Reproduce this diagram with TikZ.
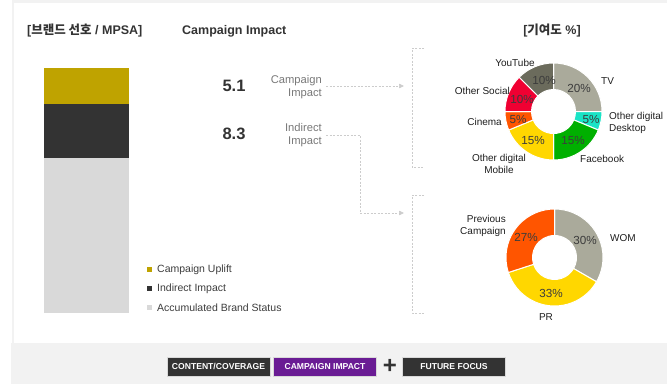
\documentclass[tikz,border=0pt]{standalone}
\usepackage{fontspec}
\setmainfont{Liberation Sans}
\newfontfamily\kr{Noto Sans CJK KR}
\usetikzlibrary{arrows.meta}
\definecolor{bgray}{RGB}{242,242,242}
\definecolor{gold}{RGB}{191,163,0}
\definecolor{dark}{RGB}{51,51,51}
\definecolor{lgray}{RGB}{217,217,217}
\definecolor{dashc}{RGB}{204,204,204}
\definecolor{labgray}{RGB}{120,120,120}
\definecolor{txt}{RGB}{30,30,30}
\definecolor{pct}{RGB}{60,60,60}
\definecolor{tvc}{RGB}{170,170,155}
\definecolor{deskc}{RGB}{25,228,198}
\definecolor{fbc}{RGB}{0,176,0}
\definecolor{yelc}{RGB}{255,215,0}
\definecolor{orc}{RGB}{255,85,0}
\definecolor{redc}{RGB}{240,0,50}
\definecolor{ytc}{RGB}{107,107,92}
\definecolor{purp}{RGB}{106,28,148}
\newcommand\ringslice[3]{%
  \fill[#3, draw=white, line width=1pt]
    ({90-#1}:48.5) arc[start angle={90-#1}, end angle={90-#2}, radius=48.5]
    -- ({90-#2}:22) arc[start angle={90-#2}, end angle={90-#1}, radius=22] -- cycle;}
\tikzset{
  head/.style={font=\fontsize{12.5}{14}\selectfont\bfseries, text=dark, inner sep=0pt},
  bignum/.style={font=\fontsize{16.5}{18}\selectfont\bfseries, text=dark, inner sep=0pt},
  implab/.style={font=\fontsize{11.2}{13.5}\selectfont, text=labgray, align=right, inner sep=0pt},
  leg/.style={font=\fontsize{10.5}{12}\selectfont, text=pct, anchor=west, inner sep=0pt},
  dlab/.style={font=\fontsize{10}{12}\selectfont, text=txt, inner sep=0pt},
  pctlab/.style={font=\fontsize{11.7}{13}\selectfont, text=pct, inner sep=0pt},
  conn/.style={draw=dashc, dash pattern=on 2pt off 1.5pt, line width=0.7pt},
  tip/.style={-{Triangle[length=5pt,width=4.5pt,fill=dashc,color=dashc]}},
  btn/.style={draw=lgray, line width=0.5pt, minimum width=103pt, minimum height=19pt, inner sep=0pt,
    text=white, font=\fontsize{8.6}{10}\selectfont\bfseries}
}
\begin{document}
\begin{tikzpicture}[x=1pt,y=-1pt]
\useasboundingbox (0,0) rectangle (667,386);
% frame
\fill[bgray] (12,0) rectangle (667,3);
\fill[bgray] (12,3) rectangle (14,343);
\fill[bgray] (11,343) rectangle (667,384);
% headers
\node[head, anchor=west] (h1) at (27,31) {[{\kr 브랜드 선호} / MPSA]};
\node[head, anchor=west] (h2) at (182,31) {Campaign Impact};
\node[head] (h3) at (552,31) {[{\kr 기여도} \%]};
% bar
\fill[gold] (44,68) rectangle (129,104);
\fill[dark] (44,104) rectangle (129,158);
\fill[lgray] (44,158) rectangle (129,313);
% legend
\fill[gold] (147,267) rectangle (152,272);
\fill[dark] (147,286) rectangle (152,291);
\fill[lgray] (147,305) rectangle (152,310);
\node[leg] (l1) at (157,269.5) {Campaign Uplift};
\node[leg] (l2) at (157,288.5) {Indirect Impact};
\node[leg] (l3) at (157,307.5) {Accumulated Brand Status};
% numbers
\node[bignum] (n1) at (234,86) {5.1};
\node[bignum] (n2) at (234,134) {8.3};
\node[implab, anchor=east] (ci) at (322,87) {Campaign\\Impact};
\node[implab, anchor=east] (ii) at (322,135) {Indirect\\Impact};
% connectors
\coordinate (e1) at (404,86);
\coordinate (e2) at (404,213);
\coordinate (k2) at (360,135);
\draw[conn, tip] (ci.east |- e1) ++(4,0) -- (e1);
\draw[conn, tip] ([xshift=4pt]ii.east |- k2) -- (k2) -- (k2 |- e2) -- (e2);
% brackets
\coordinate (b1t) at (424,48);
\coordinate (b1b) at (424,167);
\coordinate (b2t) at (424,195);
\coordinate (b2b) at (424,313);
\draw[conn] (b1t) -- ++(-12,0) |- (b1b);
\draw[conn] (b2t) -- ++(-12,0) |- (b2b);
% donut 1
\begin{scope}[shift={(553.5,111.5)}, y=1pt]
\ringslice{0}{90}{tvc}
\ringslice{90}{112.5}{deskc}
\ringslice{112.5}{180}{fbc}
\ringslice{180}{247.5}{yelc}
\ringslice{247.5}{270}{orc}
\ringslice{270}{315}{redc}
\ringslice{315}{360}{ytc}
\end{scope}
\node[pctlab] (p1) at (579,88) {20\%};
\node[pctlab] (p2) at (591,119) {5\%};
\node[pctlab] (p3) at (573,140) {15\%};
\node[pctlab] (p4) at (533,140) {15\%};
\node[pctlab] (p5) at (518,119) {5\%};
\node[pctlab] (p6) at (522,99) {10\%};
\node[pctlab] (p7) at (544,80) {10\%};
\node[dlab] (d1) at (515,63) {YouTube};
\node[dlab, anchor=west] (d2) at (601,81) {TV};
\node[dlab, anchor=west, align=left] (d3) at (609,123) {Other digital\\Desktop};
\node[dlab, anchor=west] (d4) at (580,159) {Facebook};
\node[dlab, align=center] (d5) at (499,164) {Other digital\\Mobile};
\node[dlab, anchor=east] (d6) at (502,122) {Cinema};
\node[dlab, anchor=east] (d7) at (510,91) {Other Social};
% donut 2
\begin{scope}[shift={(554.5,257.5)}, y=1pt]
\ringslice{0}{120}{tvc}
\ringslice{120}{252}{yelc}
\ringslice{252}{360}{orc}
\end{scope}
\node[pctlab] (q1) at (585,240) {30\%};
\node[pctlab] (q2) at (551,293) {33\%};
\node[pctlab] (q3) at (526,237) {27\%};
\node[dlab, anchor=west] (w1) at (610,238) {WOM};
\node[dlab] (w2) at (546,317) {PR};
\node[dlab, anchor=east, align=right] (w3) at (506,226) {Previous\\Campaign};
% bottom buttons
\node[btn, fill=dark] (bt1) at (218.5,366.5) {CONTENT/COVERAGE};
\node[btn, fill=purp] (bt2) at (325,366.5) {CAMPAIGN IMPACT};
\node[btn, fill=dark] (bt3) at (454,366.5) {FUTURE FOCUS};
\node[font=\fontsize{24}{24}\selectfont\bfseries, text=dark, inner sep=0pt] (plus) at (390,366) {+};
\end{tikzpicture}
\end{document}
